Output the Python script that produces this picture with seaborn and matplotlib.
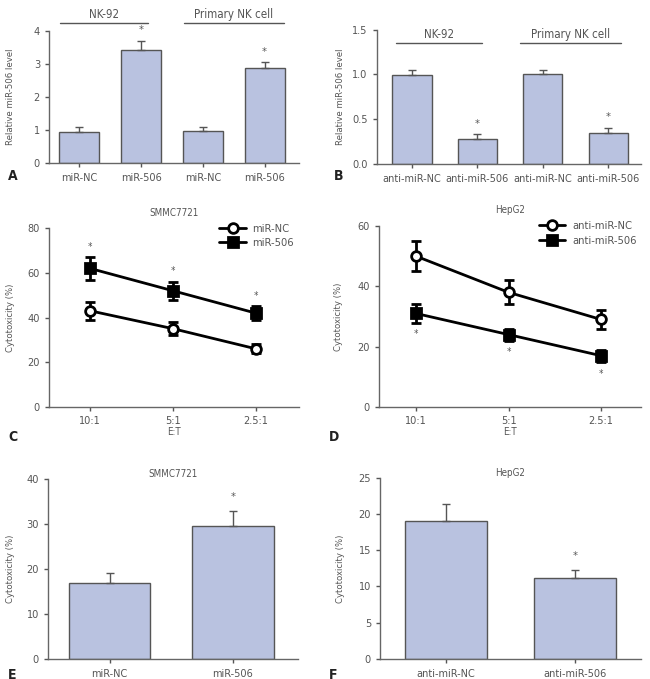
import numpy as np
import pandas as pd
import matplotlib
matplotlib.use('Agg')
import matplotlib.pyplot as plt
import seaborn as sns

# panel A / B: relative miR-506 level
ab_groups = ['NK-92', 'Primary NK cell']
a_labels = ['miR-NC', 'miR-506', 'miR-NC', 'miR-506']
a_values = [0.95, 3.42, 0.97, 2.87]
a_errors = [0.13, 0.28, 0.12, 0.18]
a_signif = [False, True, False, True]

b_labels = ['anti-miR-NC', 'anti-miR-506', 'anti-miR-NC', 'anti-miR-506']
b_values = [0.99, 0.28, 1.00, 0.35]
b_errors = [0.06, 0.05, 0.05, 0.05]
b_signif = [False, True, False, True]

# panel C / D: cytotoxicity vs E:T ratio
et_ratios = ['10:1', '5:1', '2.5:1']
c_nc = [43, 35, 26]
c_nc_err = [4, 3, 2]
c_506 = [62, 52, 42]
c_506_err = [5, 4, 3]

d_nc = [50, 38, 29]
d_nc_err = [5, 4, 3]
d_506 = [31, 24, 17]
d_506_err = [3, 2, 2]

# panel E / F: cytotoxicity bars
e_labels = ['miR-NC', 'miR-506']
e_values = [16.8, 29.6]
e_errors = [2.4, 3.2]
f_labels = ['anti-miR-NC', 'anti-miR-506']
f_values = [19.0, 11.2]
f_errors = [2.4, 1.0]

BAR_COLOR = '#b9c2e0'
EDGE = '#555555'
TXT = '#555555'

sns.set_style('ticks')
plt.rcParams['font.family'] = ['DejaVu Sans']
plt.rcParams['font.stretch'] = 'condensed'
plt.rcParams['text.color'] = TXT
plt.rcParams['axes.labelcolor'] = TXT
plt.rcParams['xtick.color'] = TXT
plt.rcParams['ytick.color'] = TXT
plt.rcParams['axes.edgecolor'] = '#666666'

TICK_FS = 7.8
LABEL_FS = 6.8
SMALL_FS = 7


def style_axes(ax):
	'''Open-box look with gray outward ticks.'''
	sns.despine(ax=ax)
	ax.tick_params(axis='both', labelsize=TICK_FS, length=3, width=1, direction='out')
	for s in ['left', 'bottom']:
		ax.spines[s].set_linewidth(1)


def bar_panel(ax, labels, values, errors, signif, ymax, ticks, width):
	'''Bars with one-sided error bars and asterisks.'''
	df = pd.DataFrame({'pos': [str(i) for i in range(len(labels))], 'value': values})
	sns.barplot(data=df, x='pos', y='value', color=BAR_COLOR, edgecolor=EDGE,
				linewidth=1, width=width, saturation=1, errorbar=None, ax=ax)
	pos = np.arange(len(labels))
	ax.errorbar(pos, values, yerr=[np.zeros(len(errors)), errors], fmt='none',
				ecolor=EDGE, elinewidth=1, capsize=3, capthick=1)
	for p, v, e, s in zip(pos, values, errors, signif):
		if s:
			ax.text(p, v + e + 0.08 * ymax, '*', ha='center', va='center',
					fontsize=8, color=TXT)
	ax.set_xticks(pos)
	ax.set_xticklabels(labels)
	ax.set_ylim(0, ymax)
	ax.set_yticks(ticks)
	ax.set_xlabel('')
	style_axes(ax)


def line_panel(ax, series, title, ylim_top, ticks, star_below):
	'''Two cytotoxicity lines with symmetric error bars.'''
	x = np.arange(len(et_ratios))
	for name, vals, errs, marker, face in series:
		df = pd.DataFrame({'x': x, 'y': vals})
		sns.lineplot(data=df, x='x', y='y', ax=ax, color='black', linewidth=2,
					 marker=marker, markersize=7, markerfacecolor=face,
					 markeredgecolor='black', markeredgewidth=2, label=name, zorder=3)
		ax.errorbar(x, vals, yerr=errs, fmt='none', ecolor='black',
					elinewidth=2, capsize=3.5, capthick=2, zorder=2)
	name, vals, errs = series[1][:3]
	for xi, v, e in zip(x, vals, errs):
		if star_below:
			ax.text(xi, v - e - 0.065 * ylim_top, '*', ha='center', va='center',
					fontsize=7, color=TXT)
		else:
			ax.text(xi, v + e + 0.06 * ylim_top, '*', ha='center', va='center',
					fontsize=7, color=TXT)
	ax.set_xticks(x)
	ax.set_xticklabels(et_ratios)
	ax.set_ylim(0, ylim_top)
	ax.set_yticks(ticks)
	ax.set_xlabel('E:T', fontsize=SMALL_FS, labelpad=1)
	ax.set_ylabel('Cytotoxicity (%)', fontsize=LABEL_FS)
	ax.set_title(title, fontsize=SMALL_FS, color=TXT, pad=9)
	leg = ax.legend(loc='upper right', bbox_to_anchor=(1.0, 1.05), frameon=False,
					fontsize=8, handlelength=2.4, borderaxespad=0,
					labelspacing=0.4, handletextpad=0.6)
	for t in leg.get_texts():
		t.set_color(TXT)
	style_axes(ax)


def group_bracket(ax, x0, x1, y, text, text_y):
	ax.plot([x0, x1], [y, y], color=EDGE, linewidth=1, clip_on=False)
	ax.text((x0 + x1) / 2, text_y, text, ha='center', va='center', fontsize=8.3,
			color=TXT, clip_on=False)


fig = plt.figure(figsize=(6.5, 6.79), dpi=100)

axA = fig.add_axes([0.0754, 0.760, 0.384, 0.1948])
bar_panel(axA, a_labels, a_values, a_errors, a_signif, 4, [0, 1, 2, 3, 4], 0.65)
axA.set_xlim(-0.49, 3.55)
axA.set_ylabel('Relative miR-506 level', fontsize=LABEL_FS)
axA.yaxis.set_label_coords(-0.137, 0.5)
group_bracket(axA, -0.31, 1.12, 4.24, ab_groups[0], 4.5)
group_bracket(axA, 1.69, 3.32, 4.24, ab_groups[1], 4.5)

axB = fig.add_axes([0.5795, 0.7585, 0.4066, 0.198])
bar_panel(axB, b_labels, b_values, b_errors, b_signif, 1.5,
		  [0.0, 0.5, 1.0, 1.5], 0.6)
axB.set_xlim(-0.54, 3.5)
axB.set_yticklabels(['0.0', '0.5', '1.0', '1.5'])
axB.set_ylabel('Relative miR-506 level', fontsize=LABEL_FS)
axB.yaxis.set_label_coords(-0.12, 0.5)
group_bracket(axB, -0.245, 1.07, 1.35, ab_groups[0], 1.45)
group_bracket(axB, 1.65, 3.19, 1.35, ab_groups[1], 1.45)

axC = fig.add_axes([0.0754, 0.401, 0.384, 0.2627])
line_panel(axC, [('miR-NC', c_nc, c_nc_err, 'o', 'white'),
				 ('miR-506', c_506, c_506_err, 's', 'black')],
		   'SMMC7721', 80, [0, 20, 40, 60, 80], False)
axC.set_xlim(-0.5, 2.52)
axC.yaxis.set_label_coords(-0.137, 0.5)

axD = fig.add_axes([0.583, 0.4006, 0.403, 0.2666])
line_panel(axD, [('anti-miR-NC', d_nc, d_nc_err, 'o', 'white'),
				 ('anti-miR-506', d_506, d_506_err, 's', 'black')],
		   'HepG2', 60, [0, 20, 40, 60], True)
axD.set_xlim(-0.4, 2.43)
axD.yaxis.set_label_coords(-0.137, 0.5)

axE = fig.add_axes([0.0738, 0.0295, 0.385, 0.265])
bar_panel(axE, e_labels, e_values, e_errors, [False, True], 40,
		  [0, 10, 20, 30, 40], 0.66)
axE.set_xlim(-0.5, 1.53)
axE.set_ylabel('Cytotoxicity (%)', fontsize=LABEL_FS)
axE.yaxis.set_label_coords(-0.132, 0.5)
axE.set_title('SMMC7721', fontsize=SMALL_FS, color=TXT, pad=-7)

axF = fig.add_axes([0.5846, 0.0295, 0.4015, 0.267])
bar_panel(axF, f_labels, f_values, f_errors, [False, True], 25,
		  [0, 5, 10, 15, 20, 25], 0.63)
axF.set_xlim(-0.51, 1.51)
axF.set_ylabel('Cytotoxicity (%)', fontsize=LABEL_FS)
axF.yaxis.set_label_coords(-0.134, 0.5)
axF.set_title('HepG2', fontsize=SMALL_FS, color=TXT, pad=-7)

for ax in [axA, axB, axE, axF]:
	ax.tick_params(axis='x', pad=4)

# panel letters
for letter, (x, y) in zip('ABCDEF', [(8, 176), (334, 176), (8, 437), (329, 437),
									(8, 675), (329, 675)]):
	fig.text(x / 650, 1 - y / 679, letter, fontsize=10, fontweight='bold',
			 color='#222222', ha='left', va='center')

fig.savefig('out.png', dpi=100)
